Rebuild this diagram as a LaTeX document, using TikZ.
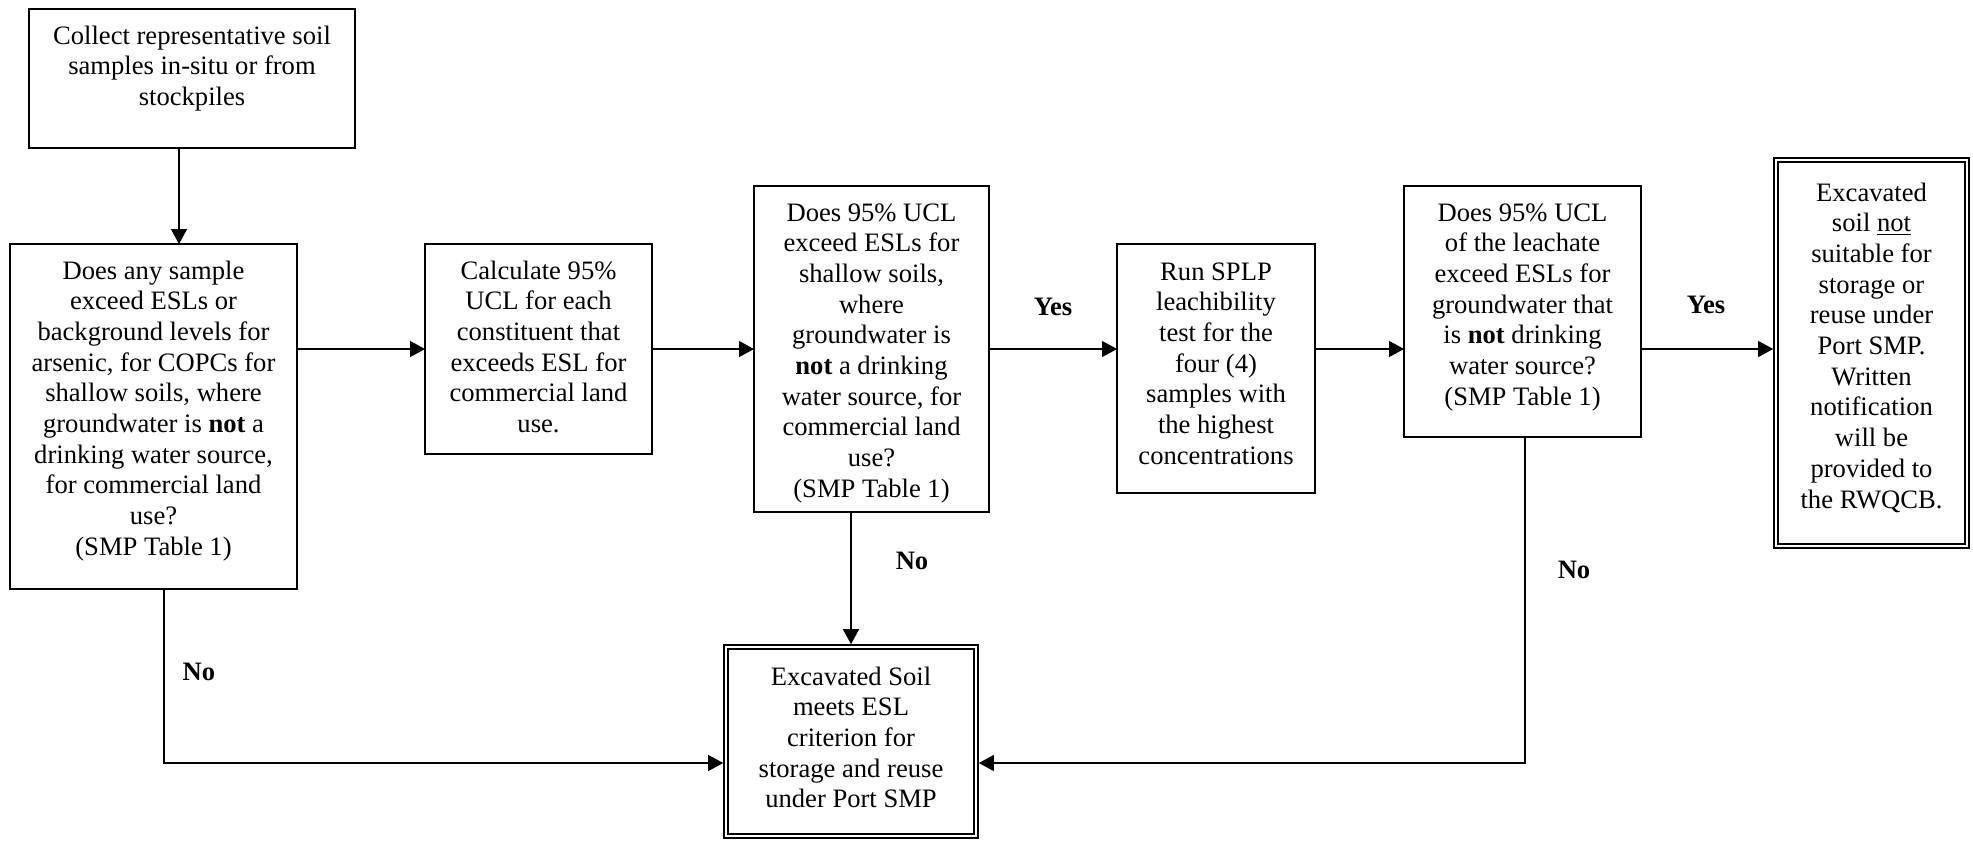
\documentclass[tikz,border=0pt]{standalone}
\usepackage{fontspec}
\setmainfont{Liberation Serif}
\usetikzlibrary{arrows.meta}
\newcommand{\bxt}[4]{\parbox[c][#1][t]{#2}{\centering\rule{0pt}{#3}#4\par}}
\tikzset{
  boxfont/.style={font=\fontsize{13.3}{15.35}\selectfont},
  box/.style={draw, line width=0.75pt, inner sep=0pt, outer sep=0pt, boxfont},
  dbox/.style={draw, line width=1.05pt, double, double distance=0.75pt, inner sep=0pt, outer sep=1.4pt, boxfont},
  conn/.style={line width=0.6pt, -{Triangle[width=8pt,length=7.5pt]}},
  lbl/.style={font=\fontsize{13.3}{15.35}\selectfont\bfseries, inner sep=0pt},
}
\begin{document}
\begin{tikzpicture}[x=0.5pt,y=-0.5pt]
\useasboundingbox (0,0) rectangle (1973,842);
% boxes
\node[box] (A) at (192,78.5) {\bxt{69.5pt}{163pt}{17.5pt}{Collect representative soil\\samples in-situ or from\\stockpiles}};
\node[box] (B) at (153.5,416.5) {\bxt{172.5pt}{143.5pt}{17.5pt}{Does any sample\\exceed ESLs or\\background levels for\\arsenic, for COPCs for\\shallow soils, where\\groundwater is \textbf{not} a\\drinking water source,\\for commercial land\\use?\\(SMP Table 1)}};
\node[box] (C) at (538.5,349) {\bxt{105pt}{113.5pt}{17.5pt}{Calculate 95\%\\UCL for each\\constituent that\\exceeds ESL for\\commercial land\\use.}};
\node[box] (D) at (871.5,349) {\bxt{163pt}{117.5pt}{17.5pt}{Does 95\% UCL\\exceed ESLs for\\shallow soils,\\where\\groundwater is\\\textbf{not} a drinking\\water source, for\\commercial land\\use?\\(SMP Table 1)}};
\node[box] (E) at (1216,368.5) {\bxt{124.5pt}{99pt}{18pt}{Run SPLP\\leachibility\\test for the\\four (4)\\samples with\\the highest\\concentrations}};
\node[box] (F) at (1522.5,311.5) {\bxt{125.5pt}{118.5pt}{17.5pt}{Does 95\% UCL\\of the leachate\\exceed ESLs for\\groundwater that\\is \textbf{not} drinking\\water source?\\(SMP Table 1)}};
\node[dbox] (G) at (1871.5,353) {\bxt{193pt}{95.5pt}{20.5pt}{Excavated\\soil \underline{not}\\suitable for\\storage or\\reuse under\\Port SMP.\\Written\\notification\\will be\\provided to\\the RWQCB.}};
\node[dbox] (H) at (851,741.5) {\bxt{94.5pt}{125pt}{19pt}{Excavated Soil\\meets ESL\\criterion for\\storage and reuse\\under Port SMP}};
% helper coordinates
\coordinate (xab) at (179,0);
\coordinate (row) at (0,349);
\coordinate (xb) at (164,0);
\coordinate (xf) at (1525,0);
\coordinate (yb) at (0,763);
% connectors
\draw[conn] (A.south -| xab) -- (B.north -| xab);
\draw[conn] (B.east |- row) -- (C.west |- row);
\draw[conn] (C.east |- row) -- (D.west |- row);
\draw[conn] (D.east |- row) -- (E.west |- row);
\draw[conn] (E.east |- row) -- (F.west |- row);
\draw[conn] (F.east |- row) -- (G.west |- row);
\draw[conn] (D.south -| H.north) -- (H.north);
\draw[conn] (B.south -| xb) |- (H.west |- yb);
\draw[conn] (F.south -| xf) |- (H.east |- yb);
% labels
\node[lbl] (yes1) at (1053,307) {Yes};
\node[lbl] (yes2) at (1706,305) {Yes};
\node[lbl] (no1) at (912,561) {No};
\node[lbl] (no2) at (1574,570) {No};
\node[lbl] (no3) at (199,672) {No};
\end{tikzpicture}
\end{document}
